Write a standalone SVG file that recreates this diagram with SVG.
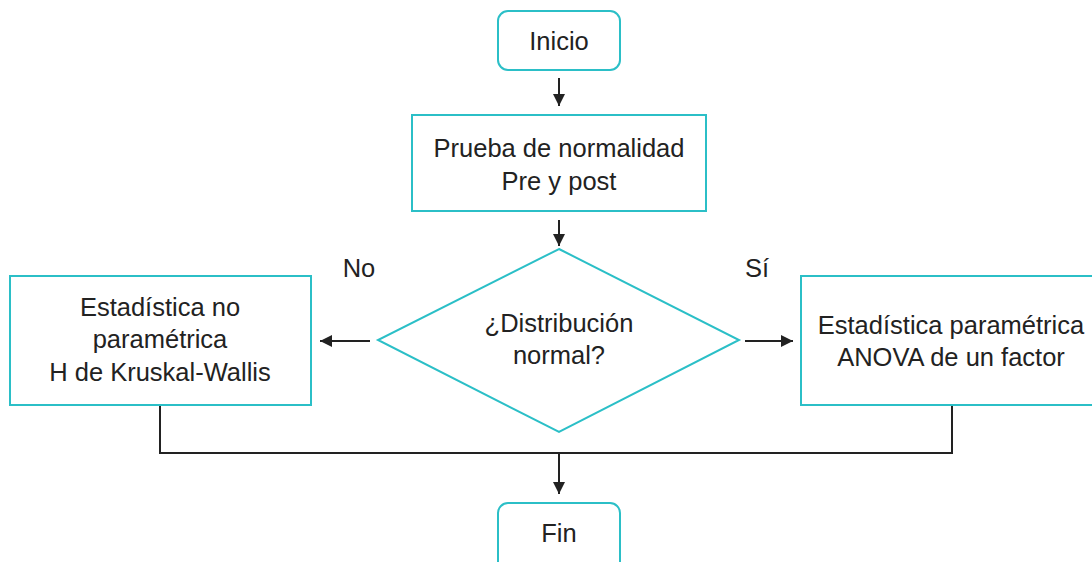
<svg xmlns="http://www.w3.org/2000/svg" width="1092" height="562" viewBox="0 0 1092 562">
<style>
.n{fill:#fff;stroke:#2bbfc7;stroke-width:2}
.t{font-family:"Liberation Sans",Arial,sans-serif;font-size:25.5px;fill:#222;text-anchor:middle}
.c{fill:none;stroke:#222;stroke-width:2}
</style>
<defs>
<marker id="ah" viewBox="0 0 10 10" refX="10" refY="5" markerWidth="12" markerHeight="12" markerUnits="userSpaceOnUse" orient="auto">
<path d="M0,0 L10,5 L0,10 Z" fill="#222"/>
</marker>
</defs>
<rect width="1092" height="562" fill="#fff"/>
<g id="connectors">
<line class="c" x1="559" y1="78" x2="559" y2="106" marker-end="url(#ah)"/>
<line class="c" x1="559" y1="220" x2="559" y2="246" marker-end="url(#ah)"/>
<line class="c" x1="370" y1="341" x2="320" y2="341" marker-end="url(#ah)"/>
<line class="c" x1="745" y1="341" x2="793" y2="341" marker-end="url(#ah)"/>
<polyline class="c" points="160,405 160,453 952,453 952,405"/>
<line class="c" x1="559" y1="453" x2="559" y2="494" marker-end="url(#ah)"/>
</g>
<g id="inicio">
<rect class="n" x="498" y="11" width="122" height="59" rx="10"/>
<text class="t" x="559" y="50">Inicio</text>
</g>
<g id="prueba">
<rect class="n" x="412" y="115" width="294" height="96"/>
<text class="t" x="559" y="157">Prueba de normalidad</text>
<text class="t" x="559" y="190">Pre y post</text>
</g>
<g id="decision">
<polygon class="n" points="559,249 739,340 559,432 378,340"/>
<text class="t" x="559" y="332">¿Distribución</text>
<text class="t" x="559" y="364">normal?</text>
</g>
<g id="label-no"><text class="t" x="359" y="277">No</text></g>
<g id="label-si"><text class="t" x="757" y="277">Sí</text></g>
<g id="no-parametrica">
<rect class="n" x="10" y="276" width="301" height="129"/>
<text class="t" x="160" y="316">Estadística no</text>
<text class="t" x="160" y="348">paramétrica</text>
<text class="t" x="160" y="381">H de Kruskal-Wallis</text>
</g>
<g id="parametrica">
<rect class="n" x="801" y="276" width="300" height="129"/>
<text class="t" x="951" y="334">Estadística paramétrica</text>
<text class="t" x="951" y="366">ANOVA de un factor</text>
</g>
<g id="fin">
<rect class="n" x="498" y="503" width="122" height="70" rx="10"/>
<text class="t" x="559" y="542">Fin</text>
</g>
</svg>
